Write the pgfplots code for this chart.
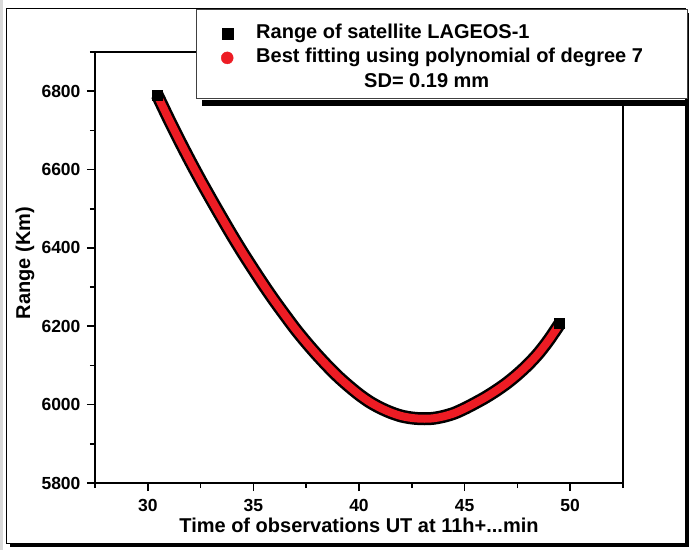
\documentclass[border=0pt]{standalone}
\usepackage{fontspec}
\setmainfont{Liberation Sans}
\usepackage{pgfplots}
\pgfplotsset{compat=1.18}
\usepackage{pgfplotstable}
\definecolor{fitred}{RGB}{237,28,36}
\pgfplotstableread{
x y
30.45 6790
31.0 6728
31.5 6674
32.0 6622
32.5 6572
33.0 6524
33.5 6477
34.0 6431
34.5 6387
35.0 6345
35.5 6304
36.0 6265
36.5 6228
37.0 6192
37.5 6159
38.0 6128
38.5 6099
39.0 6072
39.5 6048
40.0 6026
40.5 6007
41.0 5992
41.5 5980
42.0 5971
42.5 5966
43.0 5964
43.5 5965
44.0 5970
44.5 5978
45.0 5990
45.5 6004
46.0 6019
46.5 6036
47.0 6055
47.5 6077
48.0 6102
48.5 6131
49.0 6166
49.5 6206
}\rangedata

\begin{document}
\begin{tikzpicture}[x=1pt,y=1pt]
\path[use as bounding box] (0,0) rectangle (689,550);
\fill[black!15] (0,0) rectangle (2.5,550);
% outer frame with shadow
\fill[black] (10,3) rectangle (689,7);
\fill[black] (685,3) rectangle (689,537);
\draw[line width=1pt] (6,7) rectangle (685,541);
% legend box with shadow
\fill[black] (202,444) rectangle (689,450);
\draw[line width=1pt, fill=white, draw=black!75] (196,451) rectangle (687,540);
\begin{axis}[
  at={(95pt,67pt)}, anchor=south west,
  scale only axis, width=528pt, height=431pt,
  xmin=27.5, xmax=52.5, ymin=5800, ymax=6900,
  xtick={30,35,...,50}, ytick={5800,6000,...,6800},
  minor xtick={27.5,32.5,...,52.5}, minor ytick={5900,6100,...,6900},
  axis x line*=bottom, axis y line*=left,
  axis line style={line width=2pt, -},
  tick align=outside,
  major tick length=8pt, minor tick length=5pt,
  every tick/.style={black, line width=1.6pt},
  /pgf/number format/assume math mode=true,
  /pgf/number format/1000 sep={},
  tick label style={font=\fontsize{17.5}{20}\selectfont\bfseries},
  xticklabel style={yshift=-5pt},
  yticklabel style={xshift=-3pt},
  every axis x label/.style={at={(axis description cs:0.5,-0.099)}, anchor=center, font=\fontsize{20}{24}\selectfont\bfseries},
  every axis y label/.style={at={(axis description cs:-0.1326,0.51)}, anchor=center, rotate=90, font=\fontsize{20}{24}\selectfont\bfseries},
  xlabel={Time of observations UT at 11h+...min},
  ylabel={Range (Km)},
  legend cell align=left,
  legend style={draw=none, fill=none, at={(axis description cs:0.2339,1.0657)}, anchor=north west,
    inner sep=0pt, column sep=23pt, row sep=5.5pt,
    font=\fontsize{20}{24}\selectfont\bfseries,
    nodes={inner sep=0pt, text height=14.5pt, text depth=4.5pt}},
  clip=false,
]
\addlegendimage{only marks, mark=square*, mark size=5.5pt, black}
\addlegendentry{Range of satellite LAGEOS-1}
\addlegendimage{only marks, mark=*, mark size=6pt, fitred, mark options={draw=fitred, fill=fitred}}
\addlegendentry{Best fitting using polynomial of degree 7}
\addlegendimage{empty legend}
\addlegendentry{\hspace{108pt}SD= 0.19 mm}
\addplot[black, line width=13pt, smooth, line join=round, forget plot,
  mark=square*, mark indices={1,39}, mark size=5pt, mark options={line width=0pt}] table {\rangedata};
\addplot[fitred, line width=8pt, smooth, line cap=round, line join=round, forget plot] table {\rangedata};
\draw[line width=2pt] (rel axis cs:0,1) -- (rel axis cs:0.1913,1);
\draw[line width=2pt] (rel axis cs:1,0) -- (rel axis cs:1,0.8747);
\end{axis}
\end{tikzpicture}
\end{document}
